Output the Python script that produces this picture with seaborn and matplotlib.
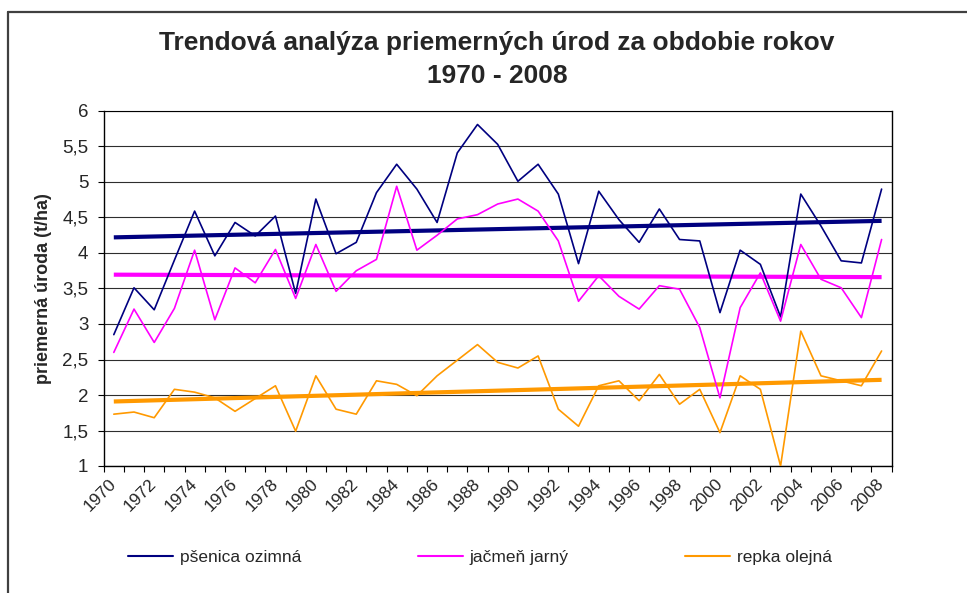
import numpy as np
import pandas as pd
import matplotlib
matplotlib.use("Agg")
import matplotlib.pyplot as plt
from matplotlib.lines import Line2D
import seaborn as sns

years = list(range(1970, 2009))
wheat = [2.85, 3.51, 3.20, 3.90, 4.59, 3.96, 4.43, 4.24, 4.52, 3.43, 4.76, 3.99,
         4.15, 4.85, 5.25, 4.90, 4.43, 5.41, 5.81, 5.53, 5.01, 5.25, 4.83, 3.85, 4.87,
         4.47, 4.15, 4.62, 4.19, 4.17, 3.16, 4.04, 3.84, 3.10, 4.83, 4.38, 3.89, 3.86, 4.90]
barley = [2.60, 3.21, 2.74, 3.22, 4.04, 3.06, 3.79, 3.58, 4.05, 3.36, 4.12, 3.46,
          3.75, 3.91, 4.94, 4.04, 4.25, 4.48, 4.54, 4.69, 4.76, 4.59, 4.17, 3.32, 3.68,
          3.39, 3.21, 3.54, 3.49, 2.95, 1.96, 3.23, 3.72, 3.04, 4.12, 3.63, 3.51, 3.09, 4.19]
rapeseed = [1.73, 1.76, 1.68, 2.08, 2.04, 1.96, 1.77, 1.95, 2.13, 1.49, 2.27, 1.80,
            1.73, 2.20, 2.15, 1.99, 2.27, 2.49, 2.71, 2.46, 2.38, 2.55, 1.80, 1.56, 2.13,
            2.20, 1.92, 2.29, 1.87, 2.08, 1.47, 2.27, 2.08, 1.00, 2.90, 2.27, 2.20, 2.13, 2.62]
series_names = ["pšenica ozimná", "jačmeň jarný", "repka olejná"]
colors = ["#000080", "#FF00FF", "#FF9900"]
xtick_years = list(range(1970, 2009, 2))
ytick_vals = [1, 1.5, 2, 2.5, 3, 3.5, 4, 4.5, 5, 5.5, 6]
ytick_labels = ["1", "1,5", "2", "2,5", "3", "3,5", "4", "4,5", "5", "5,5", "6"]
title_l1 = "Trendová analýza priemerných úrod za obdobie rokov"
title_l2 = "1970 - 2008"
ylabel = "priemerná úroda (t/ha)"

sns.set_theme(style="white")
plt.rcParams["font.family"] = ["Liberation Sans", "DejaVu Sans"]

df = pd.DataFrame({
    "rok": years * 3,
    "uroda": wheat + barley + rapeseed,
    "plodina": [series_names[0]] * len(years) + [series_names[1]] * len(years)
               + [series_names[2]] * len(years),
})

fig = plt.figure(figsize=(9.67, 5.93), dpi=100)
ax = fig.add_axes([103.7 / 967, 1 - 466 / 593, 788 / 967, 355 / 593])

# trend lines (linear regression, drawn beneath series)
for name, vals, c in zip(series_names, [wheat, barley, rapeseed], colors):
    sns.regplot(x=years, y=vals, ax=ax, scatter=False, ci=None, truncate=True,
                line_kws=dict(color=c, lw=3.0, solid_capstyle="butt", zorder=3))

sns.lineplot(data=df, x="rok", y="uroda", hue="plodina", palette=colors,
             hue_order=series_names, ax=ax, lw=1.2, legend=False, zorder=4)

ax.set_xlim(1969.5, 2008.5)
ax.set_ylim(1, 6)
ax.set_yticks(ytick_vals)
ax.set_yticklabels(ytick_labels, fontsize=13.5)
ax.yaxis.grid(True, color="#2e2e2e", lw=0.8)
ax.set_axisbelow(True)

# x ticks at category boundaries, labels at category centers
ax.set_xticks(np.arange(1969.5, 2009.0, 1.0))
ax.set_xticklabels([])
ax.set_xticks(xtick_years, minor=True)
ax.set_xticklabels([str(y) for y in xtick_years], minor=True, rotation=45,
                   ha="right", va="center", rotation_mode="anchor", fontsize=12.5)
ax.tick_params(axis="x", which="major", direction="out", length=4, width=0.8,
               color="black", bottom=True)
ax.tick_params(axis="x", which="minor", length=0, pad=11, bottom=True)
ax.tick_params(axis="y", direction="out", length=4, width=0.8, color="black",
               left=True, pad=7)

for s in ["left", "bottom", "right"]:
    ax.spines[s].set_color("black")
    ax.spines[s].set_linewidth(1.0)
ax.spines["top"].set_color("black")
ax.spines["top"].set_linewidth(0.8)

ax.set_xlabel("")
ax.set_ylabel(ylabel, fontsize=13, fontweight="bold")
ax.yaxis.set_label_coords(-0.066, 0.5)

fig.text(497 / 967, 1 - 50 / 593, title_l1, ha="center", va="baseline",
         fontsize=19, fontweight="bold")
fig.text(497 / 967, 1 - 83 / 593, title_l2, ha="center", va="baseline",
         fontsize=19, fontweight="bold")

handles = [Line2D([], [], color=c, lw=1.5) for c in colors]
fig.legend(handles, series_names, loc="center", bbox_to_anchor=(480 / 967, 1 - 557 / 593),
           ncol=3, frameon=False, fontsize=12.5, handlelength=2.6,
           handletextpad=0.4, columnspacing=6.7)

# outer chart frame (left and top edges visible)
fig.add_artist(Line2D([8 / 967, 8 / 967], [0, 1 - 12 / 593], color="#404040", lw=1.6,
                      transform=fig.transFigure))
fig.add_artist(Line2D([8 / 967, 1.0], [1 - 12 / 593, 1 - 12 / 593], color="#404040", lw=1.6,
                      transform=fig.transFigure))

fig.savefig("out.png", dpi=100)
